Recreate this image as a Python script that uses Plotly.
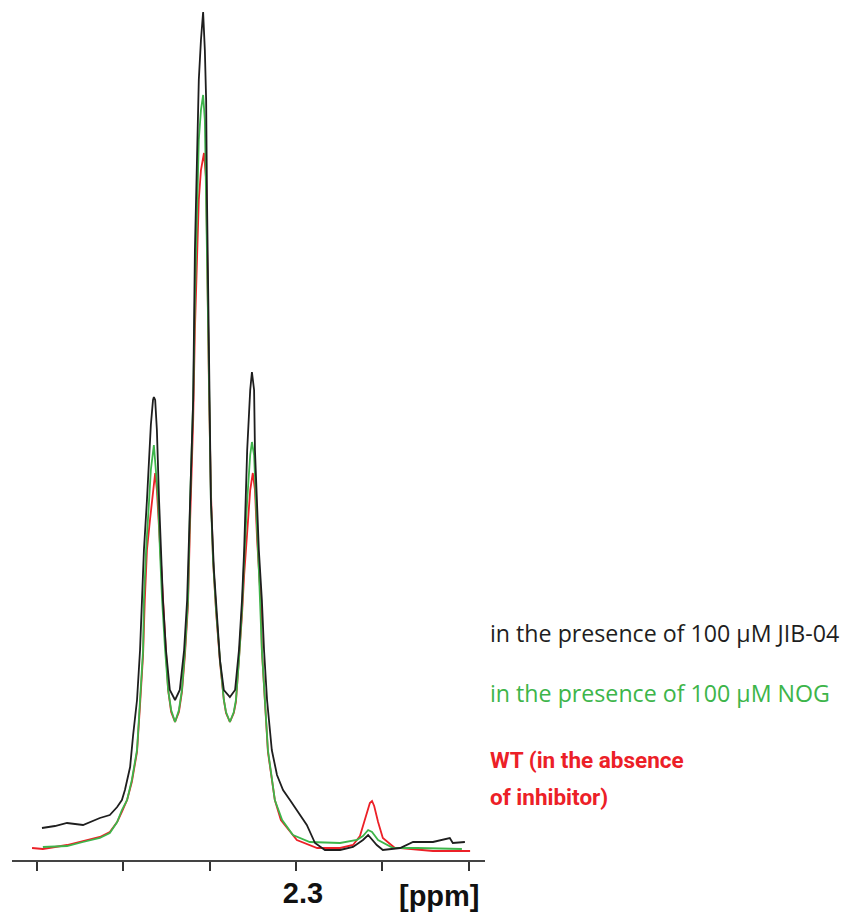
import plotly.graph_objects as go

# ---- data (ppm, arbitrary intensity) ----
black_ppm = [2.3588, 2.3558, 2.3530, 2.3493, 2.3454, 2.3431, 2.3414, 2.3403, 2.3396, 2.3384, 2.3377,
             2.3368, 2.3361, 2.3356, 2.3352, 2.3345, 2.3340, 2.3336, 2.3331, 2.3329, 2.3326, 2.3322,
             2.3317, 2.3313, 2.3308, 2.3301, 2.3292, 2.3280, 2.3269, 2.3259, 2.3252, 2.3245, 2.3238,
             2.3234, 2.3229, 2.3225, 2.3220, 2.3215, 2.3211, 2.3208, 2.3206, 2.3201, 2.3197, 2.3190,
             2.3183, 2.3176, 2.3167, 2.3153, 2.3141, 2.3132, 2.3125, 2.3120, 2.3113, 2.3106, 2.3102,
             2.3097, 2.3095, 2.3086, 2.3079, 2.3074, 2.3067, 2.3056, 2.3044, 2.3030, 2.3014, 2.2998,
             2.2975, 2.2956, 2.2933, 2.2898, 2.2868, 2.2845, 2.2833, 2.2813, 2.2799, 2.2759, 2.2729,
             2.2683, 2.2644, 2.2637, 2.2609]
black_int = [32, 34, 37, 35, 42, 45, 53, 60, 70, 93, 125,
             160, 210, 260, 310, 360, 400, 435, 460, 463, 460, 430,
             360, 310, 260, 210, 170, 160, 170, 210, 260, 360, 460,
             610, 710, 780, 820, 848, 810, 760, 660, 460, 360, 290,
             240, 200, 170, 163, 170, 210, 260, 310, 410, 470, 488,
             470, 410, 310, 260, 210, 160, 110, 85, 70, 60, 50,
             35, 17, 10, 10, 13, 20, 25, 15, 10, 12, 18,
             18, 22, 17, 18]

green_ppm = [2.3586, 2.3530, 2.3493, 2.3454, 2.3431, 2.3414, 2.3403, 2.3391, 2.3380, 2.3368, 2.3361,
             2.3354, 2.3352, 2.3347, 2.3340, 2.3336, 2.3329, 2.3324, 2.3319, 2.3315, 2.3310, 2.3303,
             2.3296, 2.3289, 2.3280, 2.3271, 2.3264, 2.3257, 2.3250, 2.3245, 2.3238, 2.3234, 2.3229,
             2.3225, 2.3220, 2.3215, 2.3211, 2.3208, 2.3206, 2.3201, 2.3197, 2.3192, 2.3185, 2.3176,
             2.3167, 2.3162, 2.3153, 2.3144, 2.3139, 2.3132, 2.3125, 2.3120, 2.3113, 2.3106, 2.3102,
             2.3097, 2.3095, 2.3090, 2.3086, 2.3083, 2.3079, 2.3072, 2.3065, 2.3049, 2.3032, 2.3007,
             2.2968, 2.2898, 2.2859, 2.2845, 2.2833, 2.2824, 2.2810, 2.2775, 2.2720, 2.2616]
green_int = [13, 14, 18, 22, 27, 38, 50, 60, 80, 110, 160,
             210, 260, 310, 360, 390, 415, 390, 360, 310, 260, 210,
             170, 150, 138, 150, 170, 210, 260, 360, 460, 560, 660,
             720, 750, 765, 740, 660, 560, 440, 360, 300, 250, 200,
             160, 148, 138, 148, 160, 200, 250, 300, 360, 405, 418,
             405, 380, 330, 290, 260, 210, 160, 110, 60, 40, 25,
             18, 17, 20, 24, 30, 28, 20, 12, 12, 11]

red_ppm = [2.3611, 2.3586, 2.3558, 2.3530, 2.3493, 2.3454, 2.3431, 2.3414, 2.3403, 2.3391, 2.3380,
           2.3368, 2.3361, 2.3354, 2.3350, 2.3345, 2.3338, 2.3331, 2.3326, 2.3322, 2.3317, 2.3313,
           2.3308, 2.3303, 2.3296, 2.3289, 2.3280, 2.3271, 2.3264, 2.3257, 2.3250, 2.3245, 2.3238,
           2.3234, 2.3229, 2.3225, 2.3220, 2.3213, 2.3208, 2.3206, 2.3201, 2.3197, 2.3192, 2.3185,
           2.3176, 2.3167, 2.3162, 2.3153, 2.3144, 2.3139, 2.3132, 2.3125, 2.3120, 2.3113, 2.3106,
           2.3100, 2.3095, 2.3090, 2.3086, 2.3081, 2.3079, 2.3072, 2.3065, 2.3049, 2.3035, 2.2998,
           2.2951, 2.2898, 2.2868, 2.2852, 2.2840, 2.2829, 2.2824, 2.2819, 2.2810, 2.2799, 2.2771,
           2.2759, 2.2683, 2.2597]
red_int = [12, 11, 13, 15, 19, 23, 28, 38, 48, 60, 78,
           108, 155, 205, 260, 310, 340, 370, 387, 370, 330, 300,
           260, 215, 170, 148, 138, 148, 168, 205, 255, 340, 440,
           530, 610, 660, 690, 707, 680, 600, 460, 370, 300, 248,
           198, 160, 147, 138, 147, 158, 198, 245, 285, 330, 370,
           387, 370, 320, 285, 255, 210, 160, 108, 60, 40, 20,
           12, 12, 15, 24, 42, 57, 59, 54, 38, 22, 12,
           12, 9, 9]

tick_vals = [2.36, 2.34, 2.32, 2.30, 2.28, 2.26]
tick_text = ["", "", "", "2.3", "", ""]

label_lines = [
    ["in the presence of 100 µM JIB-04"],
    ["in the presence of 100 µM NOG"],
    ["WT (in the absence", "of inhibitor)"],
]

BLACK = "#1e1e1e"
GREEN = "#3db54a"
RED = "#ec2027"

fig = go.Figure()
fig.add_trace(go.Scatter(x=red_ppm, y=red_int, mode="lines",
                         line=dict(color=RED, width=1.8), name="WT"))
fig.add_trace(go.Scatter(x=green_ppm, y=green_int, mode="lines",
                         line=dict(color=GREEN, width=1.8), name="NOG"))
fig.add_trace(go.Scatter(x=black_ppm, y=black_int, mode="lines",
                         line=dict(color=BLACK, width=1.8), name="JIB-04"))

fig.update_layout(
    width=848, height=917,
    margin=dict(l=12, r=363, t=0, b=57),
    paper_bgcolor="white", plot_bgcolor="white",
    showlegend=False,
    xaxis=dict(range=[2.36574, 2.25625], showgrid=False, zeroline=False,
               showline=True, linecolor="#444444", linewidth=1.5,
               ticks="outside", ticklen=9, tickwidth=1.8, tickcolor="#333333",
               tickvals=tick_vals, ticktext=tick_text,
               ticklabelshift=-7, ticklabelstandoff=-3,
               tickfont=dict(family="Liberation Sans", size=29, color="#111111", weight="bold")),
    yaxis=dict(range=[0, 860], visible=False),
)

fig.add_annotation(xref="paper", yref="paper", x=(439 - 12) / 473, y=-36 / 860,
                   text="[ppm]", showarrow=False, xanchor="center", yanchor="middle",
                   font=dict(family="Liberation Sans", size=29, color="#111111", weight="bold"))

legend_colors = [BLACK, GREEN, RED]
legend_y = [[633], [693], [760, 797]]
legend_weight = ["normal", "normal", "bold"]
legend_size = [23.2, 23.2, 22.5]
legend_font = ["Open Sans", "Open Sans", "Roboto"]
for lines, col, ys, wt, sz, fam in zip(label_lines, legend_colors, legend_y, legend_weight,
                                        legend_size, legend_font):
    for txt, yy in zip(lines, ys):
        fig.add_annotation(xref="paper", yref="paper", x=(490 - 12) / 473, y=(860 - yy) / 860,
                           text=txt, showarrow=False, xanchor="left", yanchor="middle", align="left",
                           xshift=-2,
                           font=dict(family=fam, size=sz, color=col, weight=wt))

fig.write_html("out.html")
